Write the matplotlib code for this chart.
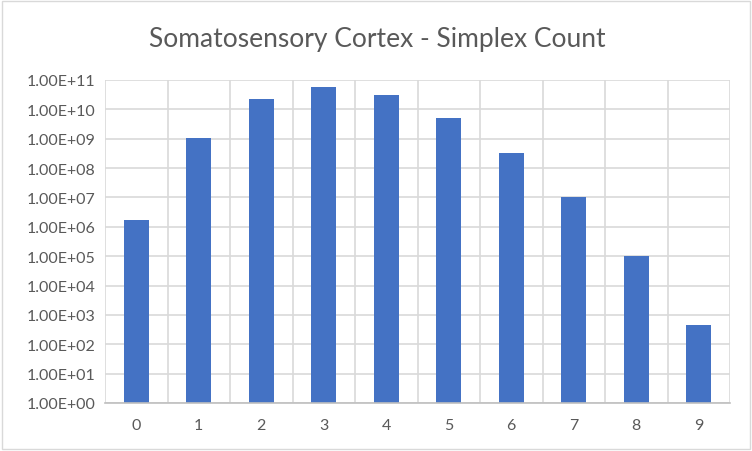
import matplotlib
matplotlib.use("Agg")
import matplotlib.pyplot as plt
from matplotlib.patches import Rectangle
from matplotlib.ticker import FixedLocator, FixedFormatter, NullLocator

categories = ["0", "1", "2", "3", "4", "5", "6", "7", "8", "9"]
counts = [1.72e6, 1.05e9, 2.3e10, 5.7e10, 3.16e10, 5.2e9, 3.25e8, 1.0e7, 1.05e5, 4.4e2]
ytick_vals = [10.0**k for k in range(0, 12)]
ytick_labels = ["1.00E+%02d" % k for k in range(0, 12)]
title = "Somatosensory Cortex - Simplex Count"

plt.rcParams['font.family'] = ['Lato', 'DejaVu Sans']
W, H = 752, 452
fig = plt.figure(figsize=(W/100, H/100), dpi=100)
ax = fig.add_axes([105/W, 1-404/H, (730-105)/W, (404-81)/H])

x = list(range(len(categories)))
ax.bar(x, counts, width=0.4, color="#4472C4", zorder=3, bottom=1)
ax.set_yscale("log")
ax.set_ylim(1, 1e11)
ax.set_xlim(-0.5, len(categories)-0.5)
ax.yaxis.set_major_locator(FixedLocator(ytick_vals))
ax.yaxis.set_major_formatter(FixedFormatter(ytick_labels))
ax.yaxis.set_minor_locator(NullLocator())
ax.set_xticks(x)
ax.set_xticklabels(categories)
ax.tick_params(axis='both', length=0, colors="#595959", labelsize=11.5)
ax.tick_params(axis='x', pad=11)
ax.tick_params(axis='y', pad=7)

grid_c = "#D9D9D9"
ax.grid(axis='y', color=grid_c, linewidth=1.2, zorder=0)
for b in [i - 0.5 for i in range(len(categories)+1)]:
    ax.axvline(b, color=grid_c, linewidth=1.2, zorder=0)
for s in ['top', 'right', 'left']:
    ax.spines[s].set_visible(False)
ax.spines['bottom'].set_color("#BFBFBF")
ax.spines['bottom'].set_linewidth(1.2)
ax.spines['bottom'].set_zorder(4)

fig.text(377/W, 1-40/H, title, ha='center', va='center', fontsize=19, color="#595959")
fig.patches.append(Rectangle((2/W, 2/H), (W-4)/W, (H-4)/H, transform=fig.transFigure,
                             fill=False, edgecolor="#D9D9D9", linewidth=1))
fig.savefig("out.png", dpi=100)
